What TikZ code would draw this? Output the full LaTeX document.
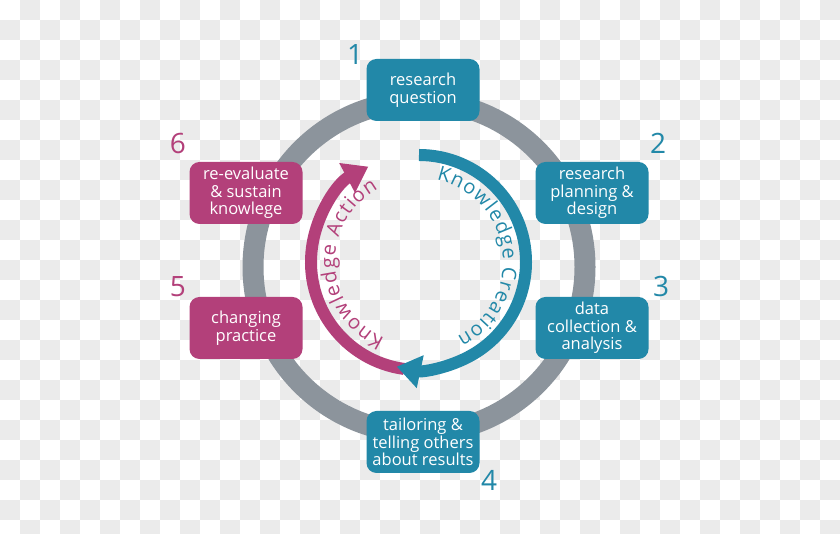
\documentclass[tikz,border=0pt]{standalone}
\usepackage{fontspec}
\setmainfont{Open Sans}
\usepackage{tikz}
\usetikzlibrary{arrows.meta,decorations.text}
\definecolor{cycleteal}{HTML}{2288A8}
\definecolor{cyclepink}{HTML}{B3407A}
\definecolor{ringgray}{HTML}{8C949C}
\definecolor{checkgray}{HTML}{EBEBEB}

\begin{document}
\begin{tikzpicture}[x=1pt,y=1pt,
  stepbox/.style={rounded corners=10pt, minimum width=113pt, minimum height=62pt,
    inner sep=0pt, align=center, text=white, font=\fontsize{16.5}{17.5}\selectfont},
  stepnum/.style={inner sep=0pt, font=\fontsize{28}{28}\selectfont}]
  \useasboundingbox (0,0) rectangle (840,534);
  \clip (0,0) rectangle (840,534);
  \fill[white] (0,0) rectangle (840,534);
  \foreach \i in {0,...,41}
    \foreach \j in {0,...,26}
      {\ifodd\numexpr\i+\j\relax \fill[checkgray] (20*\i,534-20*\j) rectangle ++(20,-20);\fi}

  \draw[ringgray, line width=21pt] (419,267) circle[radius=166];

  \draw[cyclepink, line width=12pt, -{Triangle[width=32pt,length=24pt]}]
    ([shift={(262:108)}]419,272) arc[start angle=262, end angle=118, radius=108];
  \draw[cycleteal, line width=12pt, -{Triangle[width=32pt,length=24pt]}]
    (419,379) arc[start angle=90, end angle=-102, radius=107];

  \path[decorate, decoration={text along path, text align=fit to path, text color=cycleteal,
      text={|\fontsize{20}{20}\selectfont|Knowledge Creation}}]
    ([shift={(78:84)}]419,272) arc[start angle=78, end angle=-63, radius=84];
  \path[decorate, decoration={text along path, text align=fit to path, text color=cyclepink,
      text={|\fontsize{20}{20}\selectfont|Knowledge Action}}]
    ([shift={(246:84)}]419,272) arc[start angle=246, end angle=119, radius=84];

  \node[stepbox, fill=cycleteal] (question) at (423,444) {research\\question};
  \node[stepbox, fill=cycleteal] (planning) at (592,341) {research\\planning \&\\design};
  \node[stepbox, fill=cycleteal] (analysis) at (592,206) {data\\collection \&\\analysis};
  \node[stepbox, fill=cycleteal] (results) at (423,92) {tailoring \&\\telling others\\about results};
  \node[stepbox, fill=cyclepink] (practice) at (246,206) {changing\\practice};
  \node[stepbox, fill=cyclepink] (sustain) at (246,341) {re-evaluate\\\& sustain\\knowlege};

  \node[stepnum, text=cycleteal] (num1) at (355,479) {1};
  \node[stepnum, text=cycleteal] (num2) at (658,391) {2};
  \node[stepnum, text=cycleteal] (num3) at (661,247) {3};
  \node[stepnum, text=cycleteal] (num4) at (489,54) {4};
  \node[stepnum, text=cyclepink] (num5) at (178,247) {5};
  \node[stepnum, text=cyclepink] (num6) at (178,390) {6};
\end{tikzpicture}
\end{document}
